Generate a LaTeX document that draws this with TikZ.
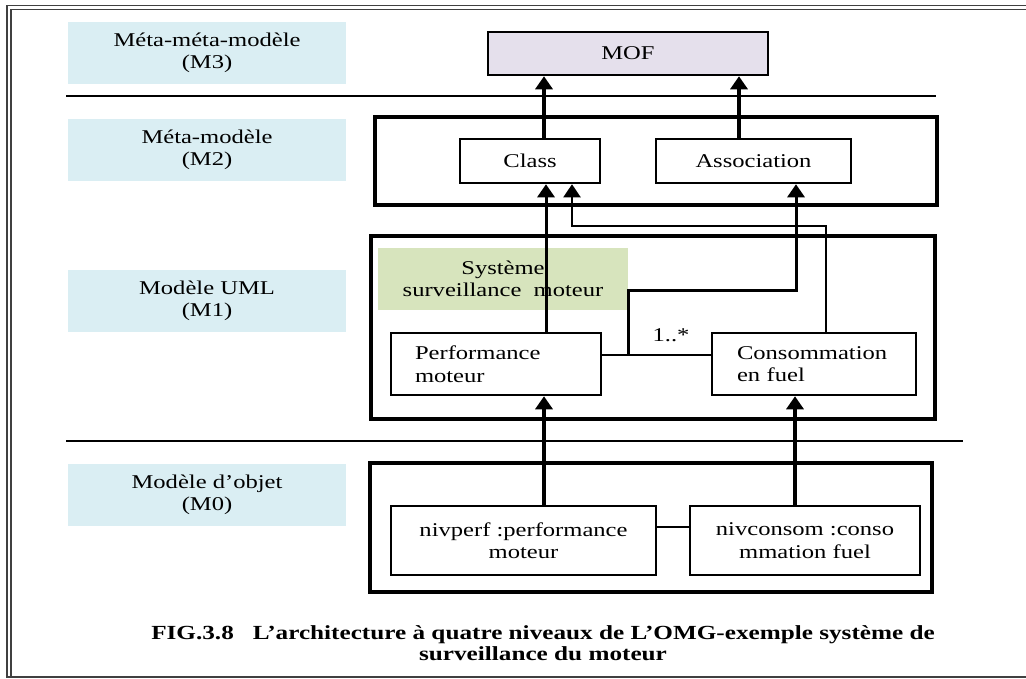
\documentclass[tikz,border=0pt]{standalone}
\usepackage{fontspec}
\setmainfont{Liberation Serif}[FakeStretch=1.26]
\usetikzlibrary{arrows.meta,calc}

\definecolor{labblue}{HTML}{DAEEF3}
\definecolor{pkggreen}{HTML}{D7E4BD}
\definecolor{moflilac}{HTML}{E5E0EC}
\newcommand{\txtsz}{\fontsize{19.5pt}{22.5pt}\selectfont}

\tikzset{
  levellabel/.style={fill=labblue, minimum width=278pt, minimum height=62pt,
    inner sep=0pt, align=center, font=\txtsz},
  umlbox/.style={draw, line width=2.5pt, fill=white, inner sep=0pt,
    align=center, font=\txtsz},
  levelframe/.style={draw, line width=4.5pt, inner sep=0pt},
  sepline/.style={line width=2pt},
  framerule/.style={line width=1.5pt, draw=black!75},
  bigarrow/.style={line width=3.5pt, -{Triangle[width=17pt,length=13pt]}},
  routearrow/.style={line width=3pt, -{Triangle[width=17pt,length=13pt]}},
  thinarrow/.style={line width=2pt, -{Triangle[width=17pt,length=13pt]}},
  assocline/.style={line width=2.5pt},
}

\begin{document}
\begin{tikzpicture}[x=1pt,y=-1pt]
\useasboundingbox (0,0) rectangle (1026,678);
\fill[white] (0,0) rectangle (1026,678);

% page frame (double rule on the left and top)
\draw[framerule] (1030,5.5) -- (7,5.5) -- (7,677) -- (1030,677);
\draw[framerule] (1030,9.5) -- (11,9.5) -- (11,677);

% level labels
\node[levellabel] (m3) at (207,53)  {Méta-méta-modèle\\(M3)};
\node[levellabel] (m2) at (207,150) {Méta-modèle\\(M2)};
\node[levellabel] (m1) at (207,301) {Modèle UML\\(M1)};
\node[levellabel] (m0) at (207,495) {Modèle d’objet\\(M0)};

% level separators
\draw[sepline] (66,96) -- (936,96);
\draw[sepline] (66,441) -- (963,441);

% level frames
\node[levelframe, minimum width=562pt, minimum height=88pt]  (f2) at (656,161) {};
\node[levelframe, minimum width=564pt, minimum height=183pt] (f1) at (653,327.5) {};
\node[levelframe, minimum width=562pt, minimum height=129pt] (f0) at (651,527.5) {};

% M3
\node[umlbox, fill=moflilac, minimum width=280pt, minimum height=43pt] (mof) at (628,53.5) {MOF};

% M2
\node[umlbox, minimum width=140pt, minimum height=44pt] (class) at (530,161) {Class};
\node[umlbox, minimum width=195pt, minimum height=44pt] (assoc) at (753.5,161) {Association};

% M1
\node[fill=pkggreen, minimum width=250pt, minimum height=62pt, inner sep=0pt,
      align=center, font=\txtsz] (pkg) at (503,279) {Système\\surveillance\ \ moteur};
\node[umlbox, align=left, text width=162pt, inner xsep=24pt, minimum height=62pt] (perf) at (496,364)
  {Performance\\moteur};
\node[umlbox, align=left, text width=154pt, inner xsep=25pt, minimum height=62pt] (cons) at (814,364)
  {Consommation\\en fuel};

% M0
\node[umlbox, minimum width=265pt, minimum height=69pt] (nperf) at (523.5,540.5)
  {nivperf :performance\\moteur};
\node[umlbox, minimum width=230pt, minimum height=69pt] (ncons) at (805,540.5)
  {nivconsom :conso\\mmation fuel};

% M2 -> M3 instantiation
\coordinate (a1) at ($(class.north)+(14,0)$);
\coordinate (a2) at ($(assoc.north)+(-14.5,0)$);
\draw[bigarrow] (a1) -- (a1 |- mof.south);
\draw[bigarrow] (a2) -- (a2 |- mof.south);

% M1 -> M2 instantiation
\coordinate (b1) at ($(perf.north)+(50,0)$);
\draw[routearrow] (b1) -- (b1 |- class.south);

\coordinate (c0) at ($(cons.north)+(12,0)$);
\coordinate (c1) at (826,226);
\coordinate (c2) at ($(class.south)+(42,0)$);
\draw[thinarrow] (c0) -- (c1) -- (c1 -| c2) -- (c2);

% association between the two classes
\coordinate (l0) at ($(perf.east)+(0,-9)$);
\draw[assocline] (l0) -- (l0 -| cons.west);
\coordinate (j0) at (628,355);
\coordinate (j1) at (628,290);
\coordinate (j2) at ($(assoc.south)+(42.5,0)$);
\draw[routearrow] (j0) -- (j1) -- (j1 -| j2) -- (j2);
\node[font=\txtsz, inner sep=0pt] (mult) at (671,335) {1..*};

% M0 -> M1 instantiation
\coordinate (d1) at ($(nperf.north)+(20.5,0)$);
\coordinate (d2) at ($(ncons.north)+(-10,0)$);
\draw[bigarrow] (d1) -- (d1 |- perf.south);
\draw[bigarrow] (d2) -- (d2 |- cons.south);

% link between the two objects
\coordinate (e0) at ($(nperf.east)+(0,-13.5)$);
\draw[assocline] (e0) -- (e0 -| ncons.west);

% caption
\node[font=\fontsize{20pt}{21.5pt}\selectfont\bfseries, align=center, inner sep=0pt] (cap) at (543,643)
  {FIG.3.8\ \ \ L’architecture à quatre niveaux de L’OMG-exemple système de\\surveillance du moteur};
\end{tikzpicture}
\end{document}
